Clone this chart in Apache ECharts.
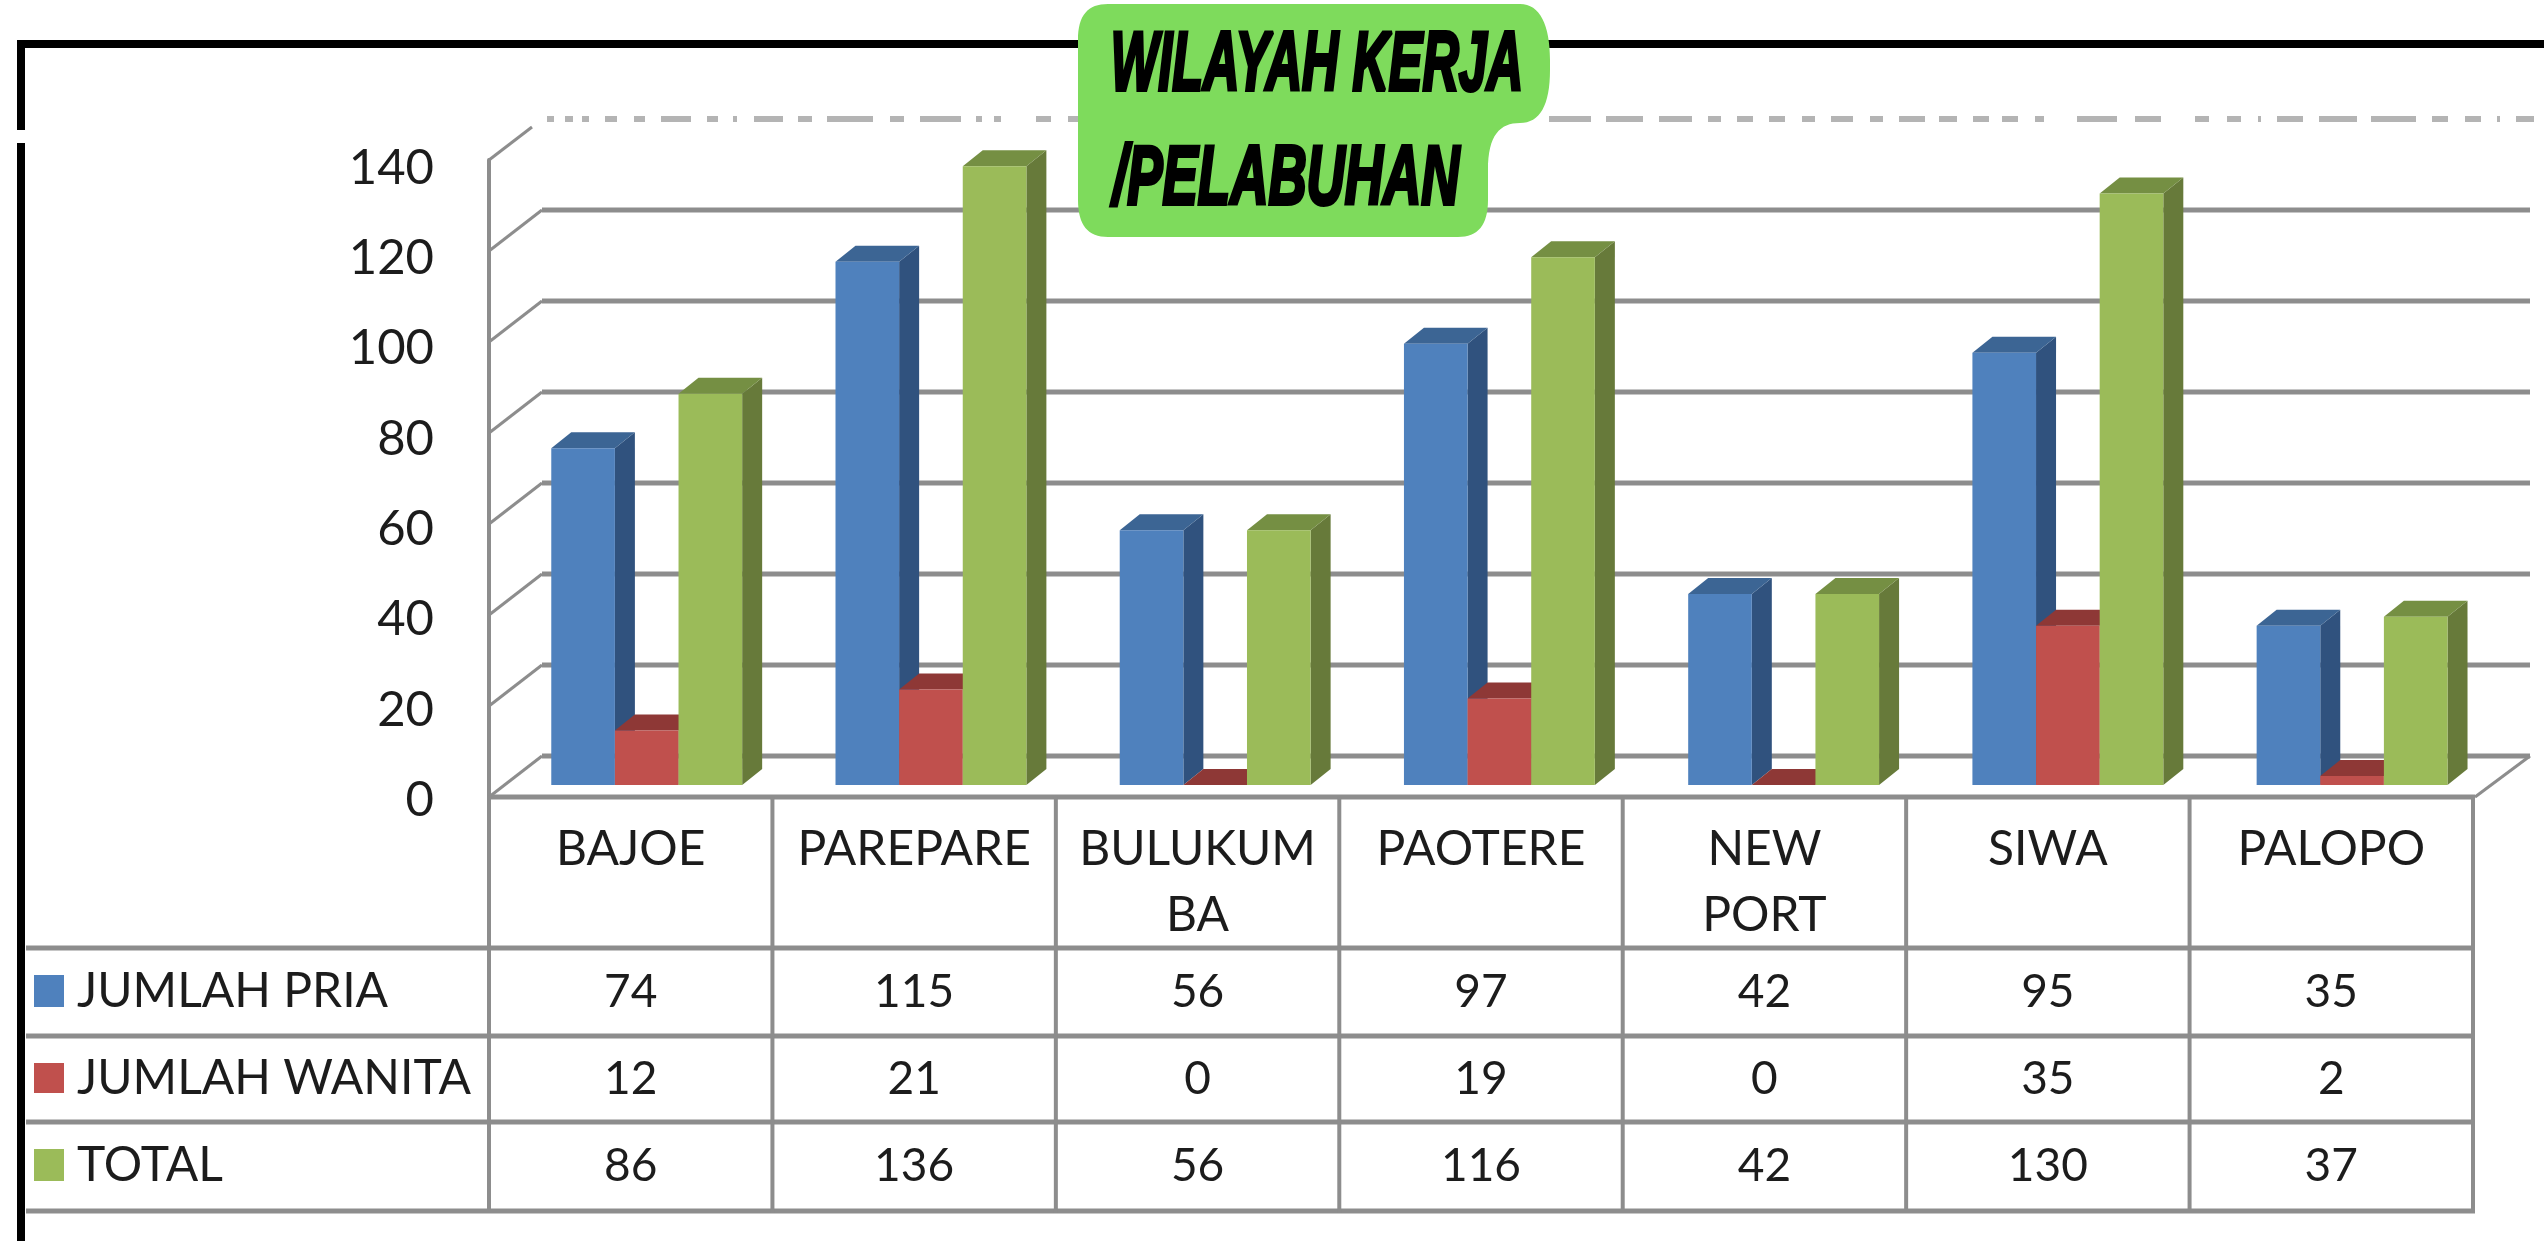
<!DOCTYPE html>
<html>
<head>
<meta charset="utf-8">
<style>html,body{margin:0;padding:0;background:#fff}#c{width:2544px;height:1241px}</style>
<script src="https://cdn.jsdelivr.net/npm/echarts@6/dist/echarts.min.js"></script>
</head>
<body>
<div id="c"></div>
<script>
const categories = ['BAJOE','PAREPARE','BULUKUM\nBA','PAOTERE','NEW\nPORT','SIWA','PALOPO'];
const jumlahPria = [74,115,56,97,42,95,35];
const jumlahWanita = [12,21,0,19,0,35,2];
const total = [86,136,56,116,42,130,37];
const yTicks = [0,20,40,60,80,100,120,140];
const titleLines = ['WILAYAH KERJA','/PELABUHAN'];

const FONT = 'Lato';
const TXT = '#1c1c1c';
const GRID = '#8d8d8d';
const G = {left:489, top:160, width:1984, height:637};
const DEPTH = {x:53, y:-41};
const BAR_DEPTH = {x:20, y:-16};
const BAR_SHIFT = {x:16, y:-12};
const BAR_FRAC = 0.2245;
const BAR_PITCH_EXTRA = 0.8;
// dash / gap lengths of the top gridline, which is mostly hidden in the reference
const TOP_LINE_DASH = [7,11,8,9,7,16,12,17,11,16,30,16,11,15,4,17,29,15,14,15,46,17,14,16,41,15,6,12,7,35,15,17,11,470,
  42,15,37,16,33,16,13,16,16,16,16,17,13,16,22,17,13,16,26,14,18,16,16,13,16,17,9,33,40,18,26,34,14,18,14,17,3,16,26,16,38,14,45,16,16,17,16,16,3,16,18,400];

const seriesDefs = [
  {name:'JUMLAH PRIA', data:jumlahPria, front:'#4f81bd', top:'#3c6594', side:'#30527e'},
  {name:'JUMLAH WANITA', data:jumlahWanita, front:'#c0504d', top:'#8e3836', side:'#8a3533'},
  {name:'TOTAL', data:total, front:'#9bbb59', top:'#758f43', side:'#677a3a'}
];

function barSeries(def, k){
  return {
    type:'custom', name:def.name, z:5+k,
    encode:{x:0,y:1},
    data:def.data.map((v,i)=>[i,v]),
    renderItem(params, api){
      const i=api.value(0), v=api.value(1);
      const b=api.coord([i,0]), t=api.coord([i,v]);
      const w=api.size([1,0])[0]*BAR_FRAC;
      const x0=b[0]-1.5*w+BAR_SHIFT.x+k*w+i*BAR_PITCH_EXTRA, x1=x0+w;
      const yb=b[1]+BAR_SHIFT.y, yt=t[1]+BAR_SHIFT.y;
      const dx=BAR_DEPTH.x, dy=BAR_DEPTH.y;
      return {type:'group', children:[
        {type:'polygon', shape:{points:[[x1,yt],[x1+dx,yt+dy],[x1+dx,yb+dy],[x1,yb]]}, style:{fill:def.side}},
        {type:'polygon', shape:{points:[[x0,yt],[x0+dx,yt+dy],[x1+dx,yt+dy],[x1,yt]]}, style:{fill:def.top}},
        {type:'rect', shape:{x:x0,y:yt,width:w,height:Math.max(yb-yt,0)}, style:{fill:def.front}}
      ]};
    }
  };
}

const gridSeries = {
  type:'custom', z:1, silent:true,
  encode:{x:0,y:1},
  data:yTicks.map(v=>[0,v]),
  renderItem(params, api){
    const v=api.value(1);
    const y=api.coord([0,v])[1];
    const cs=params.coordSys;
    const xb=cs.x+DEPTH.x, yb=y+DEPTH.y, xe=cs.x+cs.width+DEPTH.x+4;
    const kids=[
      {type:'line', shape:{x1:cs.x,y1:y,x2:xb,y2:yb}, style:{stroke:GRID,lineWidth:3}}
    ];
    if(v===yTicks[yTicks.length-1]){
      kids[0].shape.x2=cs.x+43; kids[0].shape.y2=y-33;
      kids.push({type:'line', shape:{x1:cs.x+58,y1:yb,x2:xe+4,y2:yb}, style:{stroke:'#b4b4b4',lineWidth:6,lineDash:TOP_LINE_DASH}});
    } else {
      kids.push({type:'line', shape:{x1:xb,y1:yb,x2:xe,y2:yb}, style:{stroke:GRID,lineWidth:5}});
    }
    if(v===0){
      kids.push({type:'line', shape:{x1:cs.x+cs.width+2,y1:y,x2:xe,y2:yb}, style:{stroke:GRID,lineWidth:3}});
    }
    return {type:'group', children:kids};
  }
};

const calloutSeries = {
  type:'custom', z:30, silent:true,
  encode:{x:0,y:1},
  data:[[0,0]],
  renderItem(){
    return {type:'path',shape:{
      pathData:'M1108,4 L1520,4 C1540,4 1550,25 1550,60 L1550,70 C1550,105 1540,123 1520,123 C1500,123 1488,135 1488,170 L1488,200 C1488,225 1478,237 1458,237 L1108,237 C1088,237 1078,225 1078,200 L1078,40 C1078,15 1088,4 1108,4 Z',
      layout:'cover',x:1078,y:4,width:472,height:233},style:{fill:'#7edb5c'}};
  }
};

// data table
const rowLines=[797,948,1036,1122,1211];
const rowText=[992,1079,1166];
const legendKey=[[975,32],[1063,30],[1149,32]];
const band=G.width/categories.length;
const tableEls=[];
rowLines.forEach((y,i)=>tableEls.push({type:'line',z:3,shape:{x1:i===0?G.left:26,y1:y,x2:G.left+G.width+2,y2:y},style:{stroke:GRID,lineWidth:5}}));
for(let i=0;i<=categories.length;i++){
  const x=G.left+i*band;
  tableEls.push({type:'line',z:3,shape:{x1:x,y1:797,x2:x,y2:1213},style:{stroke:GRID,lineWidth:4}});
}
seriesDefs.forEach((def,r)=>{
  tableEls.push({type:'rect',z:4,shape:{x:34,y:legendKey[r][0],width:30,height:legendKey[r][1]},style:{fill:def.front}});
  tableEls.push({type:'text',z:4,x:77,y:rowText[r],style:{text:def.name,fill:TXT,font:'48px '+FONT,align:'left',verticalAlign:'middle'}});
  def.data.forEach((v,i)=>{
    tableEls.push({type:'text',z:4,x:G.left+(i+0.5)*band,y:rowText[r],style:{text:String(v),fill:TXT,font:'46px '+FONT,align:'center',verticalAlign:'middle'}});
  });
});

// frame and title text
const frameEls=[
  {type:'rect',z:20,shape:{x:17,y:40,width:2527,height:8},style:{fill:'#000'}},
  {type:'rect',z:20,shape:{x:17,y:40,width:8,height:90},style:{fill:'#000'}},
  {type:'rect',z:20,shape:{x:17,y:143,width:8,height:1098},style:{fill:'#000'}}
];
const titleFont='italic bold 84px "Liberation Sans"';
const calloutEls=[
  {type:'text',z:31,x:1317,y:67,scaleX:0.6,scaleY:1,style:{text:titleLines[0],font:titleFont,fill:'#000',stroke:'#000',lineWidth:4,align:'center',verticalAlign:'middle'}},
  {type:'text',z:31,x:1286,y:181,scaleX:0.63,scaleY:1,style:{text:titleLines[1],font:titleFont,fill:'#000',stroke:'#000',lineWidth:4,align:'center',verticalAlign:'middle'}}
];

const chart=echarts.init(document.getElementById('c'),null,{renderer:'canvas'});
chart.setOption({
  animation:false,
  backgroundColor:'#ffffff',
  grid:[
    {left:G.left,top:G.top,width:G.width,height:G.height},
    {left:G.left,top:168,width:G.width,height:632}
  ],
  xAxis:[
    {type:'category',data:categories,boundaryGap:true,gridIndex:0,
      axisLine:{show:false},axisTick:{show:false},splitLine:{show:false},
      axisLabel:{interval:0,color:TXT,fontFamily:FONT,fontSize:48,lineHeight:66,margin:20,verticalAlign:'top',hideOverlap:false}},
    {type:'category',data:categories,gridIndex:1,show:false}
  ],
  yAxis:[
    {type:'value',min:0,max:140,interval:20,gridIndex:0,
      axisLine:{show:true,lineStyle:{color:GRID,width:4}},axisTick:{show:false},splitLine:{show:false},
      axisLabel:{show:false}},
    {type:'value',min:0,max:140,interval:20,gridIndex:1,
      axisLine:{show:false},axisTick:{show:false},splitLine:{show:false},
      axisLabel:{color:TXT,fontFamily:FONT,fontSize:49,margin:55,showMinLabel:true,showMaxLabel:true}}
  ],
  graphic:{elements:[...tableEls,...frameEls,...calloutEls]},
  series:[gridSeries,...seriesDefs.map(barSeries),calloutSeries]
});
</script>
</body>
</html>
